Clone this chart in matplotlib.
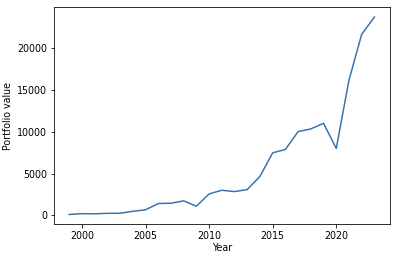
import matplotlib
matplotlib.use("Agg")
import matplotlib.pyplot as plt

years = list(range(1999, 2024))
values = [120, 220, 200, 260, 270, 500, 680, 1430, 1470, 1750, 1110,
          2580, 3020, 2860, 3100, 4680, 7500, 7900, 10040, 10360, 11030,
          8020, 16200, 21680, 23740]

plt.rcParams["font.size"] = 9.5

fig = plt.figure(figsize=(394 / 72, 257 / 72), dpi=72)
ax = fig.add_axes([0.137, 0.127, 0.852, 0.845])
ax.plot(years, values, color="#3a72ab", linewidth=1.5)
ax.set_xlabel("Year", labelpad=2)
ax.set_ylabel("Portfolio value")
ax.set_xticks([2000, 2005, 2010, 2015, 2020])
ax.set_yticks([0, 5000, 10000, 15000, 20000])

fig.savefig("out.png", dpi=72)
